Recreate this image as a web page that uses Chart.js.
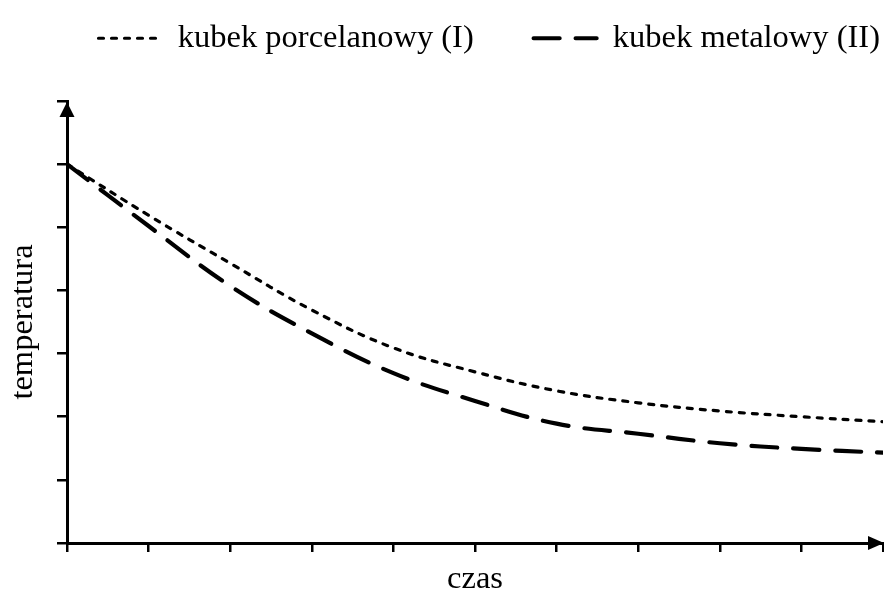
<!DOCTYPE html>
<html><head><meta charset="utf-8">
<script src="https://cdn.jsdelivr.net/npm/chart.js@4/dist/chart.umd.min.js"></script>
<style>html,body{margin:0;padding:0;background:#fff}</style>
</head><body>
<canvas id="c" width="884" height="592"></canvas>
<script>
// ---- data ----
const timeSteps = [0, 1, 2, 3, 4, 5, 6, 7, 8, 9, 10];
const porcelainTemps = [6.0, 5.19, 4.43, 3.69, 3.09, 2.71, 2.41, 2.22, 2.09, 2.00, 1.92];
const metalTemps = [6.0, 5.02, 4.07, 3.32, 2.69, 2.25, 1.89, 1.73, 1.58, 1.49, 1.43];
const seriesNames = ['kubek porcelanowy (I)', 'kubek metalowy (II)'];
const xTitle = 'czas';
const yTitle = 'temperatura';

const FONT = 'Liberation Serif';
const toPts = (ys) => ys.map((y, i) => ({x: timeSteps[i], y}));

const arrowPlugin = {
  id: 'axisArrows',
  afterDraw(chart) {
    const {ctx, chartArea: a} = chart;
    ctx.save();
    ctx.fillStyle = '#000';
    // y axis arrow
    ctx.beginPath();
    ctx.moveTo(a.left, a.top + 1);
    ctx.lineTo(a.left - 7.5, a.top + 16);
    ctx.lineTo(a.left + 7.5, a.top + 16);
    ctx.closePath();
    ctx.fill();
    // x axis arrow
    ctx.beginPath();
    ctx.moveTo(a.right + 1, a.bottom);
    ctx.lineTo(a.right - 15, a.bottom - 7);
    ctx.lineTo(a.right - 15, a.bottom + 7);
    ctx.closePath();
    ctx.fill();
    ctx.restore();
  }
};

new Chart(document.getElementById('c'), {
  type: 'line',
  data: {
    datasets: [
      {
        label: seriesNames[0],
        data: toPts(porcelainTemps),
        borderColor: '#000',
        borderWidth: 3.2,
        borderDash: [5, 8],
        borderCapStyle: 'round',
        pointRadius: 0,
        tension: 0.4,
        fill: false
      },
      {
        label: seriesNames[1],
        data: toPts(metalTemps),
        borderColor: '#000',
        borderWidth: 4.2,
        borderDash: [26, 16],
        borderCapStyle: 'round',
        pointRadius: 0,
        tension: 0.4,
        fill: false
      }
    ]
  },
  options: {
    responsive: false,
    animation: false,
    devicePixelRatio: 1,
    layout: {padding: {top: 19, left: 0, right: 1, bottom: 0}},
    plugins: {
      tooltip: {enabled: false},
      subtitle: {display: true, text: '', weight: 500, padding: 0, font: {size: 36.5, lineHeight: 1}},
      legend: {
        display: true,
        position: 'top',
        align: 'end',
        labels: {
          color: '#000',
          font: {family: FONT, size: 32.5},
          padding: 3,
          usePointStyle: true,
          pointStyle: 'line',
          pointStyleWidth: 63,
          generateLabels(chart) {
            const items = Chart.defaults.plugins.legend.labels.generateLabels(chart);
            items.forEach((it) => {
              const ds = chart.data.datasets[it.datasetIndex];
              it.lineDash = ds.borderDash;
              it.lineWidth = ds.borderWidth;
              it.lineCap = ds.borderCapStyle;
              it.strokeStyle = ds.borderColor;
            });
            items[0].text = items[0].text + '\u00A0'.repeat(7);
            return items;
          }
        }
      }
    },
    scales: {
      x: {
        type: 'linear',
        min: 0, max: 10,
        ticks: {display: false, stepSize: 1},
        grid: {drawOnChartArea: false, drawTicks: true, tickLength: 9, color: '#000', lineWidth: 2.5},
        border: {display: true, color: '#000', width: 3},
        title: {display: true, text: xTitle, color: '#000', font: {family: FONT, size: 32.5, lineHeight: 1.2}, padding: {top: 8.2, bottom: -7.2}}
      },
      y: {
        type: 'linear',
        min: 0, max: 7,
        ticks: {display: false, stepSize: 1},
        grid: {drawOnChartArea: false, drawTicks: true, tickLength: 10, color: '#000', lineWidth: 2.5},
        border: {display: true, color: '#000', width: 3},
        title: {display: true, text: yTitle, color: '#000', font: {family: FONT, size: 32.5, lineHeight: 1.2}, padding: {top: 3.5, bottom: 14.5}}
      }
    }
  },
  plugins: [arrowPlugin]
});
</script>
</body></html>
